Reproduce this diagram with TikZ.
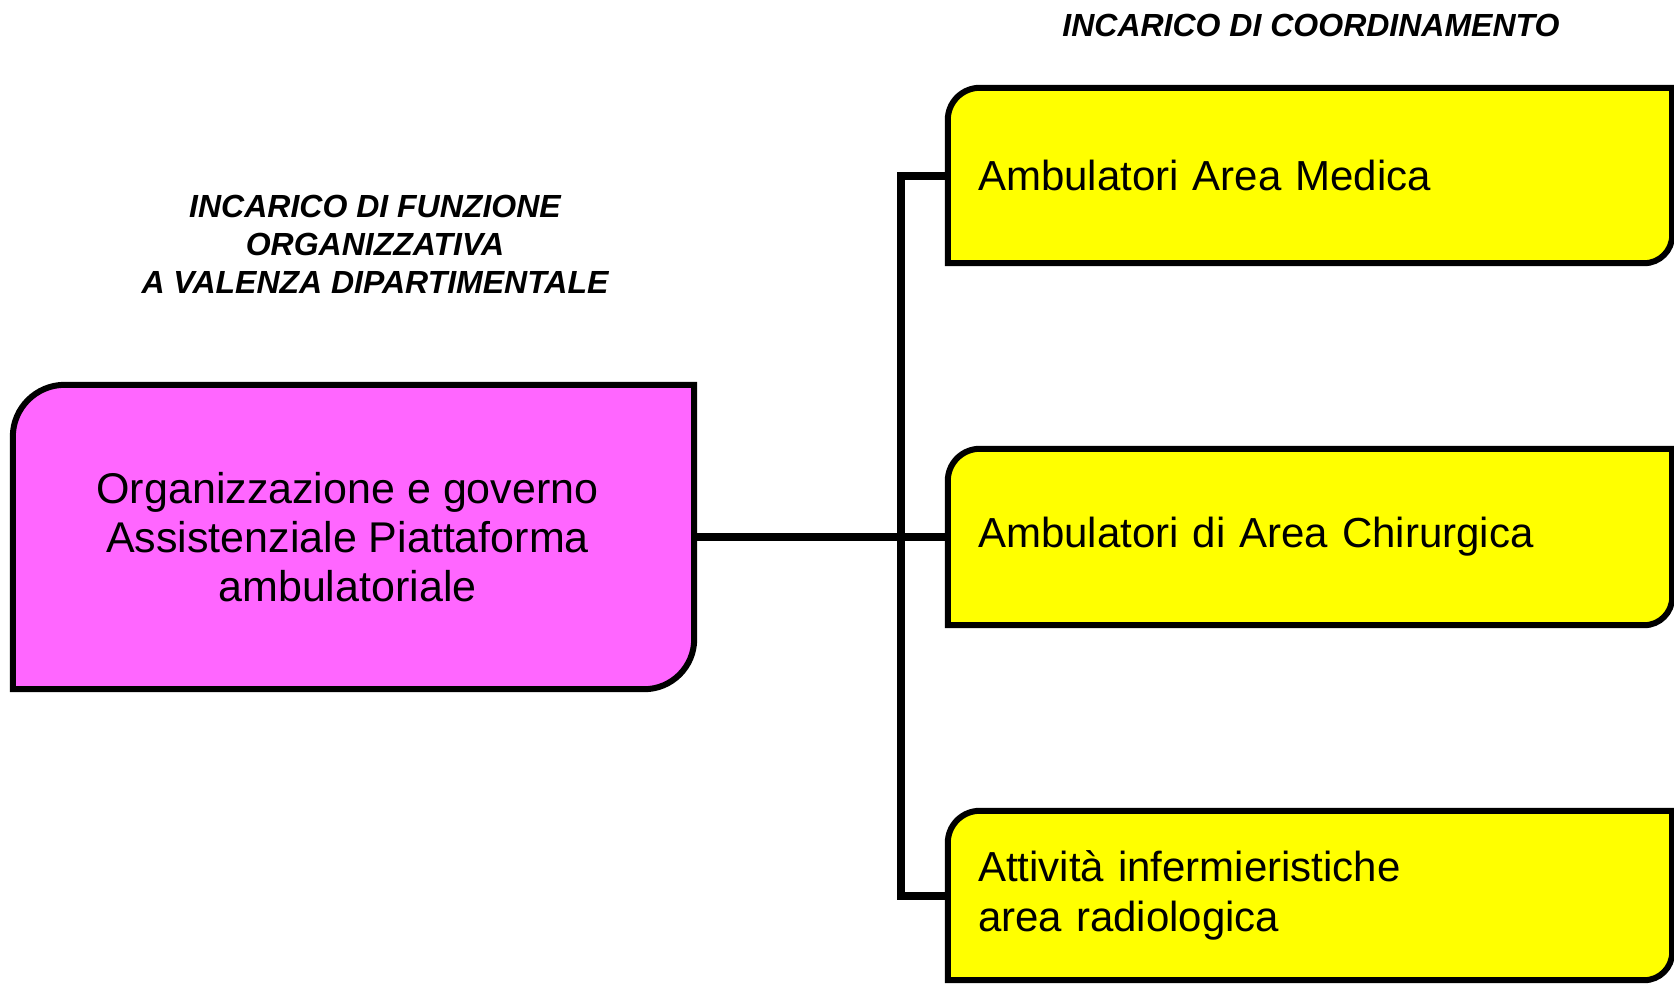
\documentclass[tikz,border=0pt]{standalone}
\usepackage{fontspec}
\setmainfont{Liberation Sans}
\definecolor{pinkbox}{HTML}{FF66FF}
\definecolor{yellowbox}{HTML}{FFFF00}
\begin{document}
\begin{tikzpicture}[x=1pt,y=-1pt,
  boxline/.style={line width=6pt, draw=black, line join=miter},
  conn/.style={line width=8pt, draw=black, line join=miter},
  heading/.style={font=\fontsize{32}{38}\selectfont\bfseries\itshape, align=center, inner sep=0pt},
  pinknode/.style={minimum width=681pt, minimum height=304pt, inner sep=0pt, align=center,
    font=\fontsize{43}{49}\selectfont},
  yellownode/.style={minimum height=#1, text width=664pt, inner sep=30pt, align=left,
    font=\fontsize{42}{50}\selectfont},
]
\fill[white] (0,0) rectangle (1674,983);
\useasboundingbox (0,0) rectangle (1674,983);

% named nodes (frames)
\node[pinknode] (org) at (353.5,537) {};
\node[yellownode=175pt] (y1) at (1310,175.5) {};
\node[yellownode=176pt] (y2) at (1310,537) {};
\node[yellownode=169pt] (y3) at (1310,895.5) {};

% connectors
\coordinate (bus) at (900.5,537);
\draw[conn] (org.east) -- (y2.west);
\draw[conn] (y1.west) -| (bus) |- (y3.west);

% box shapes
\draw[boxline, fill=pinkbox] (org.south west) -- ([yshift=-52pt]org.north west)
  arc[start angle=180, end angle=90, radius=52pt] -- (org.north east)
  -- ([yshift=50pt]org.south east) arc[start angle=0, end angle=-90, radius=50pt] -- cycle;
\foreach \b in {y1,y2,y3}{
  \draw[boxline, fill=yellowbox] (\b.south west) -- ([yshift=-32pt]\b.north west)
    arc[start angle=180, end angle=90, radius=32pt] -- (\b.north east)
    -- ([yshift=28pt]\b.south east) arc[start angle=0, end angle=-90, radius=28pt] -- cycle;
}

% texts
\node[pinknode] (orgtext) at ([xshift=-6pt]org.center) {Organizzazione e governo\\Assistenziale Piattaforma\\ambulatoriale};
\node[yellownode=175pt] (y1text) at (y1.center) {Ambulatori Area Medica};
\node[yellownode=176pt] (y2text) at (y2.center) {Ambulatori di Area Chirurgica};
\node[yellownode=169pt] (y3text) at (y3.center) {Attività infermieristiche\\area radiologica};

\node[heading] (h1) at (1311,25) {INCARICO DI COORDINAMENTO};
\node[heading] (h2) at (375,244) {INCARICO DI FUNZIONE\\ORGANIZZATIVA\\A VALENZA DIPARTIMENTALE};
\end{tikzpicture}
\end{document}
